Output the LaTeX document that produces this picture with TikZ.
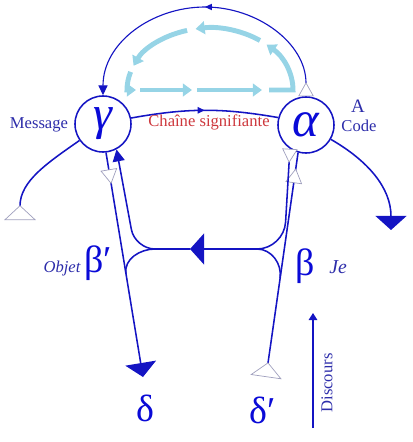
\documentclass[tikz,border=0pt]{standalone}
\usepackage{fontspec}
\setmainfont{Liberation Serif}
\usetikzlibrary{arrows.meta,calc,decorations.markings}

\definecolor{linecol}{RGB}{20,20,195}
\definecolor{greekcol}{RGB}{10,10,215}
\definecolor{labcol}{RGB}{45,45,170}
\definecolor{redcol}{RGB}{205,55,60}
\definecolor{palecol}{RGB}{150,212,230}
\definecolor{tricol}{RGB}{160,160,190}

\tikzset{
  bighead/.tip={Triangle[width=22pt,length=10pt]},
  smallhead/.tip={Triangle[width=8.5pt,length=8.5pt]},
  archead/.tip={Triangle[width=6.5pt,length=7pt]},
  tinyhead/.tip={Triangle[width=4.5pt,length=5pt]},
  dischead/.tip={Triangle[width=6pt,length=5pt]},
  palehead/.tip={Triangle[width=9pt,length=6.5pt]},
  bigopen/.tip={Triangle[reversed,width=22.5pt,length=10.5pt,color=tricol,fill=white,line width=0.5pt]},
  optail/.tip={Triangle[reversed,width=11pt,length=10pt,color=tricol,fill=white,line width=0.5pt]},
  midopen/.tip={Triangle[width=12pt,length=10.5pt,color=tricol,fill=white,line width=0.5pt]},
}

\begin{document}
\begin{tikzpicture}[x=0.025cm, y=0.025cm,
    line/.style={draw=linecol, line width=1.1pt},
    pale/.style={draw=palecol, line width=3.5pt, -palehead},
    marktip/.style 2 args={postaction={decorate},
      decoration={markings, mark=at position #1 with {\arrow{#2}}}},
    station/.style={circle, draw=linecol, line width=1.1pt, fill=white,
      minimum size=1.4cm, inner sep=0pt, text=greekcol},
    label/.style={font=\fontsize{11.8}{14}\selectfont, text=labcol, inner sep=0pt},
    greek/.style={font=\fontsize{27}{30}\selectfont, text=greekcol, inner sep=0pt}]
    \useasboundingbox (0,0) rectangle (413,-442);

    % inner loop (light blue)
    \coordinate (pc) at (210,-90);
    \foreach \a/\b in {53/100, 106/157}
        \draw[pale] ($(pc)+(\a:83 and 62)$) arc[start angle=\a, end angle=\b, x radius=83, y radius=62];
    \foreach \a/\b in {140/192, 197/262}
        \draw[pale] (\a,-90) -- (\b,-90);
    \draw[pale] ($(pc)+(163:83 and 62)$) arc[start angle=163, end angle=180, x radius=83, y radius=62] -- (136,-90);
    \draw[pale] (269,-90) -- (293,-90) arc[start angle=0, end angle=47, x radius=83, y radius=62];

    % the two stations
    \node[station, font=\fontsize{34}{36}\selectfont\itshape] (gamma) at (103,-124) {γ};
    \node[station, font=\fontsize{36}{38}\selectfont\itshape] (alpha) at (306,-125) {α};

    % free ends and bends
    \coordinate (arctop) at (205,-7);
    \coordinate (msgtail) at (20,-220);
    \coordinate (codeend) at (391,-230);
    \coordinate (deltaend) at (143,-377);
    \coordinate (dprimeend) at (266,-377);
    \coordinate (rbend) at (284,-249);
    \coordinate (lbend) at (135,-249);
    \coordinate (harr) at (190,-249);
    \coordinate (rfork) at (257,-249);
    \coordinate (lfork) at (155,-249);
    \coordinate (rjoin) at ($(dprimeend)!0.44!(alpha.-106)$);
    \coordinate (ljoin) at ($(gamma.-84)!0.54!(deltaend)$);
    \coordinate (discbot) at (313,-428);
    \coordinate (disctop) at (313,-313);

    % connectors
    \draw[line, line width=0.8pt, optail-archead, marktip={0.5}{tinyhead}]
        (alpha.north) to[out=90, in=0] (arctop) to[out=180, in=90] (gamma.north);
    \draw[line, marktip={0.5}{tinyhead}] (gamma.12) to[bend left=10] (alpha.165);
    \draw[line, bigopen-] (msgtail) to[out=90, in=215] (gamma.215);
    \draw[line, -bighead] (alpha.-30) to[out=-30, in=90] (codeend);
    \draw[line, -bighead, marktip={0.14}{midopen}] (gamma.-84) -- (deltaend);
    \draw[line, bigopen-, marktip={0.93}{midopen}] (dprimeend) -- (alpha.-106);
    \draw[line, optail-bighead, rounded corners=0.675cm] (alpha.-124) -- (rbend) -- (harr);
    \draw[line, -smallhead, rounded corners=0.5cm] (harr) -- (lbend) -- (gamma.-62);
    \draw[line] (rfork) to[out=0, in=82] (rjoin);
    \draw[line] (lfork) to[out=180, in=99] (ljoin);
    \draw[line, -dischead] (discbot) -- (disctop);

    % labels
    \node[label] (msg) at (39,-125) {Message};
    \node[label, font=\fontsize{13.5}{15}\selectfont] (codeA) at (358,-106) {A};
    \node[label] (code) at (359,-126) {Code};
    \node[label, text=redcol] (chaine) at (209,-122) {Chaîne signifiante};
    \node[greek] (betap) at (98,-263) {β′};
    \node[label, font=\fontsize{11.8}{14}\selectfont\itshape] (objet) at (62,-269) {Objet};
    \node[greek] (beta) at (305,-266) {β};
    \node[label, font=\fontsize{14}{16}\selectfont\itshape] (je) at (338,-267) {Je};
    \node[greek] (delta) at (145,-408) {δ};
    \node[greek] (deltap) at (263,-410) {δ′};
    \node[label, rotate=90] (discours) at (327,-383) {Discours};
\end{tikzpicture}
\end{document}
